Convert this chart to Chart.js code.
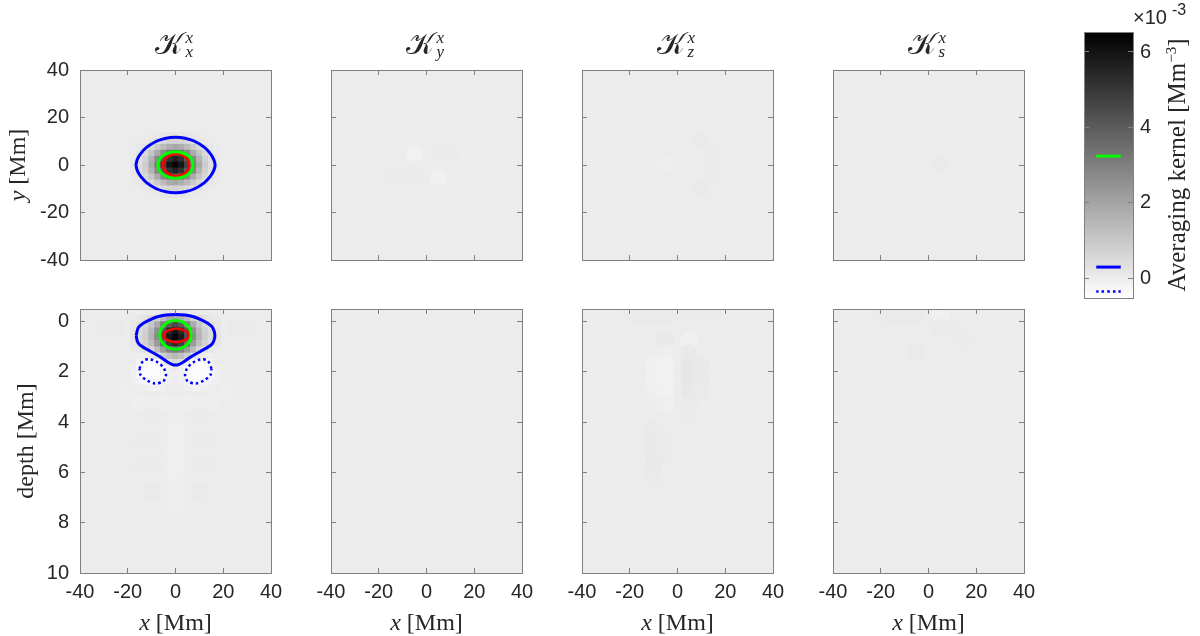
<!DOCTYPE html>
<html>
<head>
<meta charset="utf-8">
<script src="https://cdn.jsdelivr.net/npm/chart.js@4.4.0/dist/chart.umd.min.js"></script>
<style>
  body { margin: 0; background: #fff; }
  #fig { position: relative; width: 1200px; height: 636px; overflow: hidden; color: #262626;
    font-family: 'Liberation Serif', 'DejaVu Serif', serif; }
  #fig canvas { position: absolute; }
  .lbl { position: absolute; white-space: nowrap; transform: translate(-50%, -50%); }
  .rot { transform: translate(-50%, -50%) rotate(-90deg); }
  .title { position: absolute; display: flex; align-items: center; white-space: nowrap; }
  .title .k { font-size: 30px; }
  .title .ss { display: inline-flex; flex-direction: column; font-size: 17px; line-height: 14px; margin-left: 3px; }
  .exp { position: absolute; left: 1133px; top: 1px; font-family: 'Liberation Sans', Arial, sans-serif; }
</style>
</head>
<body>
<div id="fig"></div>
<script>
const xTicks = [-40, -20, 0, 20, 40]
const yTicks = [-40, -20, 0, 20, 40]
const depthTicks = [0, 2, 4, 6, 8, 10]
const cbTicks = [0, 2, 4, 6]
const subLabels = ['x', 'y', 'z', 's']
const cRange = [-0.52, 6.53]
// contour levels (x 10^-3): green, blue solid, blue dotted
const contourLevels = [3.24, 0.3, -0.35]

// K_x^x, horizontal section (fine cells 2.5 Mm)
const fineX = [-17.5, -15, -12.5, -10, -7.5, -5, -2.5, 0, 2.5, 5, 7.5, 10, 12.5, 15, 17.5]
const fineY = [12.5, 10, 7.5, 5, 2.5, 0, -2.5, -5, -7.5, -10, -12.5]
const kxxTop = [
  [0.00, 0.01, 0.03, 0.06, 0.10, 0.15, 0.20, 0.21, 0.20, 0.15, 0.10, 0.06, 0.03, 0.01, 0.00],
  [0.02, 0.04, 0.10, 0.21, 0.36, 0.53, 0.67, 0.72, 0.67, 0.53, 0.36, 0.21, 0.10, 0.04, 0.02],
  [0.04, 0.11, 0.26, 0.53, 0.93, 1.37, 1.73, 1.88, 1.73, 1.37, 0.93, 0.53, 0.26, 0.11, 0.04],
  [0.08, 0.22, 0.52, 1.05, 1.83, 2.71, 3.42, 3.71, 3.42, 2.71, 1.83, 1.05, 0.52, 0.22, 0.08],
  [0.12, 0.33, 0.78, 1.59, 2.75, 4.08, 5.16, 5.59, 5.16, 4.08, 2.75, 1.59, 0.78, 0.33, 0.12],
  [0.14, 0.38, 0.90, 1.82, 3.16, 4.67, 5.91, 6.40, 5.91, 4.67, 3.16, 1.82, 0.90, 0.38, 0.14],
  [0.12, 0.33, 0.78, 1.59, 2.75, 4.08, 5.16, 5.59, 5.16, 4.08, 2.75, 1.59, 0.78, 0.33, 0.12],
  [0.08, 0.22, 0.52, 1.05, 1.83, 2.71, 3.42, 3.71, 3.42, 2.71, 1.83, 1.05, 0.52, 0.22, 0.08],
  [0.04, 0.11, 0.26, 0.53, 0.93, 1.37, 1.73, 1.88, 1.73, 1.37, 0.93, 0.53, 0.26, 0.11, 0.04],
  [0.02, 0.04, 0.10, 0.21, 0.36, 0.53, 0.67, 0.72, 0.67, 0.53, 0.36, 0.21, 0.10, 0.04, 0.02],
  [0.00, 0.01, 0.03, 0.06, 0.10, 0.15, 0.20, 0.21, 0.20, 0.15, 0.10, 0.06, 0.03, 0.01, 0.00]
]

// K_x^x, vertical section (fine cells 2.5 Mm x 0.25 Mm)
const fineDepth = [-0.375, -0.125, 0.125, 0.375, 0.625, 0.875, 1.125, 1.375, 1.625, 1.875, 2.125, 2.375, 2.625]
const kxxDepth = [
  [0.00, 0.01, 0.02, 0.03, 0.05, 0.09, 0.12, 0.13, 0.12, 0.09, 0.05, 0.03, 0.02, 0.01, 0.00],
  [0.07, 0.14, 0.25, 0.47, 0.82, 1.33, 1.76, 1.95, 1.76, 1.33, 0.82, 0.47, 0.25, 0.14, 0.07],
  [0.15, 0.31, 0.57, 1.06, 1.86, 3.00, 3.98, 4.42, 3.98, 3.00, 1.86, 1.06, 0.57, 0.31, 0.15],
  [0.21, 0.42, 0.79, 1.45, 2.54, 4.10, 5.40, 6.05, 5.40, 4.10, 2.54, 1.45, 0.79, 0.42, 0.21],
  [0.23, 0.45, 0.84, 1.55, 2.70, 4.38, 5.80, 6.44, 5.80, 4.38, 2.70, 1.55, 0.84, 0.45, 0.23],
  [0.19, 0.37, 0.69, 1.28, 2.24, 3.62, 4.80, 5.33, 4.80, 3.62, 2.24, 1.28, 0.69, 0.37, 0.19],
  [0.05, 0.15, 0.30, 0.60, 1.36, 2.20, 2.90, 3.25, 2.90, 2.20, 1.36, 0.60, 0.30, 0.15, 0.05],
  [0.00, -0.05, 0.00, 0.10, 0.30, 0.80, 1.20, 1.43, 1.20, 0.80, 0.30, 0.10, 0.00, -0.05, 0.00],
  [0.00, -0.15, -0.38, -0.42, -0.38, -0.10, 0.30, 0.50, 0.30, -0.10, -0.38, -0.42, -0.38, -0.15, 0.00],
  [-0.10, -0.30, -0.42, -0.45, -0.42, -0.30, -0.10, 0.05, -0.10, -0.30, -0.42, -0.45, -0.42, -0.30, -0.10],
  [-0.10, -0.30, -0.42, -0.45, -0.42, -0.30, -0.10, -0.05, -0.10, -0.30, -0.42, -0.45, -0.42, -0.30, -0.10],
  [-0.05, -0.15, -0.30, -0.38, -0.36, -0.20, -0.05, 0.00, -0.05, -0.20, -0.36, -0.38, -0.30, -0.15, -0.05],
  [0.00, -0.05, -0.10, -0.15, -0.15, -0.10, 0.00, 0.00, 0.00, -0.10, -0.15, -0.15, -0.10, -0.05, 0.00]
]

// faint structure, coarse cells [x, y or depth, value]
const faintKxTop = []
const faintKxDepth = [
  [0, 3.75, -0.05], [0, 4.25, -0.08], [0, 4.75, -0.1], [0, 5.25, -0.1], [0, 5.75, -0.1], [0, 6.25, -0.08], [0, 6.75, -0.06], [0, 7.25, -0.05],
  [-20, 2.75, -0.05], [20, 2.75, -0.05], [-15, 3.25, -0.04], [-10, 3.25, -0.04], [-5, 3.25, -0.04], [0, 3.25, -0.04],
  [5, 3.25, -0.04], [10, 3.25, -0.04], [15, 3.25, -0.04],
  [-10, 3.75, 0.05], [10, 3.75, 0.05], [-10, 4.75, 0.06], [10, 4.75, 0.06], [-10, 5.75, 0.06], [10, 5.75, 0.06],
  [-10, 6.75, 0.05], [10, 6.75, 0.05], [-15, 4.75, 0.04], [15, 4.75, 0.04], [-15, 5.75, 0.04], [15, 5.75, 0.04],
  [-25, 0.25, 0.06], [25, 0.25, 0.06], [-30, 0.25, 0.04], [30, 0.25, 0.04]
]
const faintKyTop = [[-5, 5, -0.12], [5, 5, 0.07], [10, 5, 0.06], [-10, -5, 0.07], [-5, -5, 0.07], [-15, -5, 0.03], [5, -5, -0.1]]
const faintKyDepth = []
const faintKzTop = [[-5, 0, -0.04], [10, 10, 0.05], [15, 5, 0.06], [15, 0, 0.06], [15, -5, 0.06], [10, -10, 0.05]]
const faintKzDepth = [
  [-20, -0.25, 0.04], [-15, -0.25, 0.05], [-10, -0.25, 0.05], [-5, -0.25, 0.05], [0, -0.25, 0.04], [5, -0.25, 0.04], [10, -0.25, 0.04], [15, -0.25, 0.03],
  [-5, 0.75, 0.09], [5, 0.75, -0.1],
  [-5, 1.25, -0.06], [-10, 1.75, -0.1], [-5, 1.75, -0.12], [-10, 2.25, -0.11], [-5, 2.25, -0.14], [-10, 2.75, -0.09], [-5, 2.75, -0.12], [-5, 3.25, -0.08],
  [5, 1.25, 0.09], [5, 1.75, 0.15], [10, 1.75, 0.08], [5, 2.25, 0.16], [10, 2.25, 0.08], [5, 2.75, 0.11], [10, 2.75, 0.06], [5, 3.25, 0.07], [5, 3.75, 0.05],
  [-10, 4.25, 0.06], [-10, 4.75, 0.08], [-5, 4.75, 0.06], [-10, 5.25, 0.08], [-5, 5.25, 0.06], [-10, 5.75, 0.08], [-10, 6.25, 0.05]
]
const faintKsTop = [[5, 0, 0.06]]
const faintKsDepth = [
  [-20, -0.25, 0.04], [-15, -0.25, 0.05], [-10, -0.25, 0.06], [-5, -0.25, 0.05], [5, -0.25, -0.1],
  [5, 0.25, 0.05], [10, 0.25, 0.05], [15, 0.75, 0.04], [-5, 1.25, 0.05]
]

// contour lines of K_x^x [x, y or depth]
const blueTop = [[-16.6, 0], [-16, 2.4], [-14.5, 4.9], [-12, 7.5], [-8, 10], [-4, 11.3], [0, 11.7], [4, 11.3], [8, 10], [12, 7.5],
  [14.5, 4.9], [16, 2.4], [16.6, 0], [16, -2.4], [14.5, -4.9], [12, -7.5], [8, -10], [4, -11.3], [0, -11.7], [-4, -11.3],
  [-8, -10], [-12, -7.5], [-14.5, -4.9], [-16, -2.4], [-16.6, 0]]
const greenTop = [[7.4, 0], [6.84, 2.14], [5.23, 3.96], [2.83, 5.17], [0, 5.6], [-2.83, 5.17], [-5.23, 3.96], [-6.84, 2.14], [-7.4, 0],
  [-6.84, -2.14], [-5.23, -3.96], [-2.83, -5.17], [0, -5.6], [2.83, -5.17], [5.23, -3.96], [6.84, -2.14], [7.4, 0]]
const redTop = [[5.8, 0], [5.38, 1.76], [4.19, 3.25], [2.4, 4.25], [0.3, 4.6], [-1.8, 4.25], [-3.59, 3.25], [-4.78, 1.76], [-5.2, 0],
  [-4.78, -1.76], [-3.59, -3.25], [-1.8, -4.25], [0.3, -4.6], [2.4, -4.25], [4.19, -3.25], [5.38, -1.76], [5.8, 0]]
const blueDepth = [[-16.5, 0.55], [-15.6, 0.25], [-13.5, 0.07], [-10.5, -0.08], [-7.9, -0.18], [-4, -0.26], [0, -0.28], [4, -0.26],
  [7.9, -0.18], [10.5, -0.08], [13.5, 0.07], [15.6, 0.25], [16.5, 0.55], [16, 0.78], [14.9, 0.93], [10.7, 1.17], [6.5, 1.4],
  [3.5, 1.6], [1.5, 1.7], [0, 1.73], [-1.5, 1.7], [-3.5, 1.6], [-6.5, 1.4], [-10.7, 1.17], [-14.9, 0.93], [-16, 0.78], [-16.5, 0.55]]
const greenDepth = [[6.6, 0.53], [6.1, 0.31], [4.67, 0.13], [2.53, 0.0], [0, -0.04], [-2.53, 0.0], [-4.67, 0.13], [-6.1, 0.31], [-6.6, 0.53],
  [-6.1, 0.75], [-4.67, 0.93], [-2.53, 1.06], [0, 1.1], [2.53, 1.06], [4.67, 0.93], [6.1, 0.75], [6.6, 0.53]]
const redDepth = [[5.6, 0.55], [5.2, 0.45], [4.05, 0.37], [2.33, 0.31], [0.3, 0.29], [-1.73, 0.31], [-3.45, 0.37], [-4.6, 0.45], [-5, 0.55],
  [-4.6, 0.65], [-3.45, 0.73], [-1.73, 0.79], [0.3, 0.81], [2.33, 0.79], [4.05, 0.73], [5.2, 0.65], [5.6, 0.55]]
const dottedLeft = [[-15.1, 1.87], [-13.5, 1.56], [-10.7, 1.5], [-7.2, 1.64], [-4.8, 1.87], [-4.0, 2.13], [-5.1, 2.37], [-8.6, 2.46],
  [-12.1, 2.33], [-14.6, 2.13], [-15.1, 1.87]]
const dottedRight = [[15.1, 1.87], [13.5, 1.56], [10.7, 1.5], [7.2, 1.64], [4.8, 1.87], [4.0, 2.13], [5.1, 2.37], [8.6, 2.46],
  [12.1, 2.33], [14.6, 2.13], [15.1, 1.87]]

// layout
const geom = {
  colLeft: [80, 331, 582, 833],
  panelW: 191,
  rows: [{ top: 70, h: 190 }, { top: 309, h: 264 }],
  cb: { left: 1084, top: 32, w: 49, h: 266 }
}
const cbSpan = [0.25, 0.75]
const BLUE = '#0000ff'
const GREEN = '#00ff00'
const RED = '#ff0000'
const frameColor = '#808080'
const textColor = '#262626'
const tickFont = { family: "'Liberation Sans', Arial, sans-serif", size: 20 }

const fig = document.getElementById('fig')

const gray = v => {
  const t = 1 - (v - cRange[0]) / (cRange[1] - cRange[0])
  const g = Math.round(255 * Math.min(1, Math.max(0, t)))
  return `rgb(${g},${g},${g})`
}

const plotBg = {
  id: 'plotBg',
  beforeDraw(chart, args, opts) {
    const { ctx, chartArea: a } = chart
    ctx.save()
    if (opts.gradient) {
      const y = chart.scales.y
      const g = ctx.createLinearGradient(0, y.getPixelForValue(cRange[0]), 0, y.getPixelForValue(cRange[1]))
      g.addColorStop(0, gray(cRange[0]))
      g.addColorStop(1, gray(cRange[1]))
      ctx.fillStyle = g
    } else {
      ctx.fillStyle = gray(0)
    }
    ctx.fillRect(a.left, a.top, a.right - a.left, a.bottom - a.top)
    ctx.restore()
  }
}

// fixed box sizes, no room reserved for overhanging tick labels
const fixSize = size => s => {
  if (s.isHorizontal()) s.height = size
  else s.width = size
  s.paddingLeft = s.paddingRight = s.paddingTop = s.paddingBottom = 0
}

const axis = (position, min, max, ticks, size, o = {}) => ({
  type: 'linear', position, min, max, reverse: !!o.reverse,
  afterBuildTicks: s => { s.ticks = ticks.map(value => ({ value })) },
  afterFit: fixSize(size),
  grid: { display: !o.noTicks, drawOnChartArea: false, drawTicks: true, tickLength: -5, color: frameColor, lineWidth: 1, z: 1 },
  border: { display: true, color: frameColor, width: 1, z: 1 },
  ticks: { display: !!o.labels, font: tickFont, color: textColor, padding: o.padding || 0,
    maxRotation: 0, autoSkip: false, callback: v => String(v) }
})

// square cells for the kernel, soft round cells for the faint residue
const heatSet = (points, dx, dy, order, soft) => ({
  data: points, order, showLine: false, clip: 0,
  pointStyle: soft ? 'circle' : 'rect', pointBorderWidth: 0, pointHoverRadius: 0,
  pointBackgroundColor: c => c.raw ? gray(c.raw.v) : gray(0),
  pointRadius: c => {
    const { x, y } = c.chart.scales
    const w = Math.abs(x.getPixelForValue(dx) - x.getPixelForValue(0))
    const h = Math.abs(y.getPixelForValue(dy) - y.getPixelForValue(0))
    return soft ? Math.max(w, h) * 0.72 : (Math.max(w, h) + 0.6) / Math.SQRT2
  }
})

const lineSet = (pts, color, width, order, dash) => ({
  data: pts.map(([x, y]) => ({ x, y })), order, showLine: true, clip: 0,
  borderColor: color, borderWidth: width, borderDash: dash || [], borderCapStyle: 'butt',
  tension: 0.3, pointRadius: 0, pointHoverRadius: 0, fill: false
})

const gridCells = (xs, ys, vals) => {
  const out = []
  ys.forEach((y, j) => xs.forEach((x, i) => out.push({ x, y, v: vals[j][i] })))
  return out
}
const tripleCells = list => list.map(([x, y, v]) => ({ x, y, v }))

const baseOptions = {
  responsive: false, animation: false, devicePixelRatio: 1, events: [],
  layout: { padding: 0, autoPadding: false },
  plugins: { legend: { display: false }, tooltip: { enabled: false }, plotBg: {} }
}

const makeChart = (left, top, w, h, pad, config) => {
  const c = document.createElement('canvas')
  const W = w + pad[1] + pad[3]
  const H = h + pad[0] + pad[2]
  c.width = W
  c.height = H
  c.style.left = (left - pad[3]) + 'px'
  c.style.top = (top - pad[0]) + 'px'
  c.style.width = W + 'px'
  c.style.height = H + 'px'
  fig.appendChild(c)
  return new Chart(c, config)
}

const panelChart = (row, col, fine, faint, contours) => {
  const isTop = row === 0
  const r = geom.rows[row]
  const pad = [12, 12, isTop ? 12 : 44, 74]
  const yMin = isTop ? -40 : -0.5
  const yMax = isTop ? 40 : 10
  const yT = isTop ? yTicks : depthTicks
  const datasets = contours.map(([pts, color, width, dash]) => lineSet(pts, color, width, 1, dash))
  if (fine) datasets.push(heatSet(gridCells(...fine), 2.5, isTop ? 2.5 : 0.25, 8))
  datasets.push(heatSet(tripleCells(faint), 5, isTop ? 5 : 0.5, 9, true))
  return makeChart(geom.colLeft[col], r.top, geom.panelW, r.h, pad, {
    type: 'scatter',
    data: { datasets },
    options: {
      ...baseOptions,
      scales: {
        x: axis('bottom', -40, 40, xTicks, pad[2], { labels: !isTop, padding: 12 }),
        x2: axis('top', -40, 40, xTicks, pad[0]),
        y: axis('left', yMin, yMax, yT, pad[3], { labels: col === 0, padding: 16, reverse: !isTop }),
        y2: axis('right', yMin, yMax, yT, pad[1], { reverse: !isTop })
      }
    },
    plugins: [plotBg]
  })
}

const dots = [2.5, 3]
panelChart(0, 0, [fineX, fineY, kxxTop], faintKxTop, [[blueTop, BLUE, 3], [greenTop, GREEN, 3], [redTop, RED, 2.5]])
panelChart(0, 1, null, faintKyTop, [])
panelChart(0, 2, null, faintKzTop, [])
panelChart(0, 3, null, faintKsTop, [])
panelChart(1, 0, [fineX, fineDepth, kxxDepth], faintKxDepth, [
  [blueDepth, BLUE, 3], [greenDepth, GREEN, 3], [redDepth, RED, 2.5],
  [dottedLeft, BLUE, 2.5, dots], [dottedRight, BLUE, 2.5, dots]
])
panelChart(1, 1, null, faintKyDepth, [])
panelChart(1, 2, null, faintKzDepth, [])
panelChart(1, 3, null, faintKsDepth, [])

// colorbar with contour level markers
const cb = geom.cb
makeChart(cb.left, cb.top, cb.w, cb.h, [12, 50, 12, 12], {
  type: 'scatter',
  data: {
    datasets: [
      lineSet(cbSpan.map(x => [x, contourLevels[0]]), GREEN, 3, 1),
      lineSet(cbSpan.map(x => [x, contourLevels[1]]), BLUE, 3, 1),
      lineSet(cbSpan.map(x => [x, contourLevels[2]]), BLUE, 2.5, 1, dots)
    ]
  },
  options: {
    ...baseOptions,
    plugins: { ...baseOptions.plugins, plotBg: { gradient: true } },
    scales: {
      x: axis('bottom', 0, 1, [0, 1], 12, { noTicks: true }),
      x2: axis('top', 0, 1, [0, 1], 12, { noTicks: true }),
      y: axis('right', cRange[0], cRange[1], cbTicks, 50, { labels: true, padding: 12 }),
      y2: axis('left', cRange[0], cRange[1], cbTicks, 12)
    }
  },
  plugins: [plotBg]
})

// text: titles and axis labels
const addLabel = (html, x, y, cls, size) => {
  const d = document.createElement('div')
  d.className = cls
  d.style.left = x + 'px'
  d.style.top = y + 'px'
  if (size) d.style.fontSize = size + 'px'
  d.innerHTML = html
  fig.appendChild(d)
}

subLabels.forEach((s, i) => {
  const cx = geom.colLeft[i] + geom.panelW / 2
  addLabel(`<span class="k">&#x1D4A6;</span><span class="ss"><i>x</i><i>${s}</i></span>`, cx - 21, 27, 'title')
  addLabel('<i>x</i> [Mm]', cx, 622, 'lbl', 24)
})
addLabel('<i>y</i> [Mm]', 17, 165, 'lbl rot', 24)
addLabel('depth [Mm]', 25, 441, 'lbl rot', 24)
addLabel('Averaging kernel [Mm<sup style="font-size:15px">&minus;3</sup>]', 1177, 165, 'lbl rot', 25)
addLabel('<span style="font-size:20px">&times;10</span><sup style="font-size:16px;vertical-align:9px;margin-left:5px">-3</sup>', 1133, 1, 'exp')
</script>
</body>
</html>
